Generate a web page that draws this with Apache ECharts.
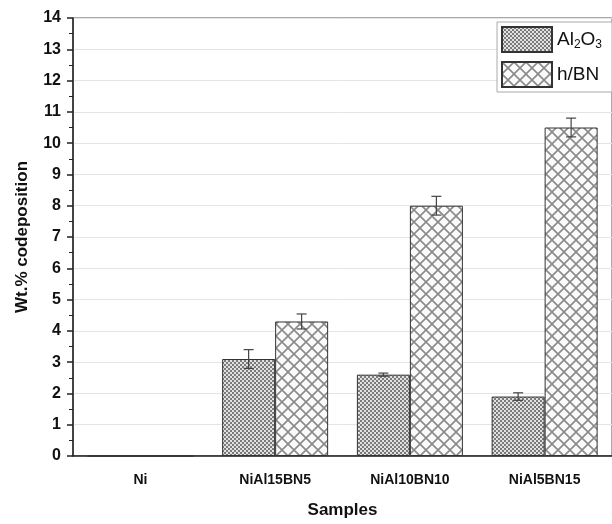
<!DOCTYPE html>
<html>
<head>
<meta charset="utf-8">
<script src="https://cdn.jsdelivr.net/npm/echarts@6/dist/echarts.min.js"></script>
<style>
  html, body { margin: 0; padding: 0; background: #fff; }
  #chart-container { width: 612px; height: 524px; }
</style>
</head>
<body>
<div id="chart-container"></div>
<script>
var categories = ['Ni', 'NiAl15BN5', 'NiAl10BN10', 'NiAl5BN15'];
var al2o3 = [0, 3.1, 2.6, 1.9];
var al2o3Err = [0, 0.3, 0.05, 0.12];
var hbn = [0, 4.3, 8.0, 10.5];
var hbnErr = [0, 0.24, 0.3, 0.3];
var yTicks = [0, 14, 1];

var BAR_W = 53;
var FONT = '"Liberation Sans", Arial, sans-serif';

// 细密的点阵填充 (Al2O3)
function dotPattern() {
    var c = document.createElement('canvas');
    c.width = 4; c.height = 4;
    var g = c.getContext('2d');
    g.fillStyle = '#e2e2e2';
    g.fillRect(0, 0, 4, 4);
    g.fillStyle = '#7a7a7a';
    g.fillRect(0, 0, 2, 2);
    g.fillRect(2, 2, 2, 2);
    return c;
}

// 斜交叉网格填充 (h/BN)
function hatchPattern() {
    var s = 12;
    var c = document.createElement('canvas');
    c.width = s; c.height = s;
    var g = c.getContext('2d');
    g.fillStyle = '#fafafa';
    g.fillRect(0, 0, s, s);
    g.strokeStyle = '#8a8a8a';
    g.lineWidth = 1.6;
    g.beginPath();
    g.moveTo(-1, -1); g.lineTo(s + 1, s + 1);
    g.moveTo(s + 1, -1); g.lineTo(-1, s + 1);
    g.stroke();
    return c;
}

var myChart = echarts.init(document.getElementById('chart-container'), null, { renderer: 'canvas' });

function errorSeries(values, errs, side) {
    var data = values.map(function (v, i) { return [i, v, errs[i]]; });
    return {
        type: 'custom',
        z: 10,
        silent: true,
        renderItem: function (params, api) {
            var i = api.value(0), v = api.value(1), e = api.value(2);
            if (!e) return null;
            var hi = api.coord([i, v + e]);
            var lo = api.coord([i, v - e]);
            var x = hi[0] + side * BAR_W / 2;
            var cap = 5;
            var st = { stroke: '#444', lineWidth: 1.2 };
            return {
                type: 'group',
                children: [
                    { type: 'line', shape: { x1: x, y1: hi[1], x2: x, y2: lo[1] }, style: st },
                    { type: 'line', shape: { x1: x - cap, y1: hi[1], x2: x + cap, y2: hi[1] }, style: st },
                    { type: 'line', shape: { x1: x - cap, y1: lo[1], x2: x + cap, y2: lo[1] }, style: st }
                ]
            };
        },
        encode: { x: 0, y: 1 },
        data: data
    };
}

var option = {
    backgroundColor: '#fff',
    animation: false,
    textStyle: { fontFamily: FONT },
    grid: {
        left: 73, right: 0, top: 18, bottom: 68,
        show: true, borderColor: '#555', borderWidth: 1, backgroundColor: '#fff'
    },
    legend: {
        orient: 'vertical',
        left: 497, top: 22,
        icon: 'rect',
        itemWidth: 50, itemHeight: 25, itemGap: 8,
        padding: [4, 10, 4, 4],
        borderColor: '#aaa', borderWidth: 1,
        backgroundColor: '#fff',
        data: ['Al2O3', 'h/BN'],
        formatter: function (name) {
            if (name === 'Al2O3') return '{a|Al}{s|2}{a|O}{s|3}';
            return '{a|h/BN}';
        },
        textStyle: {
            fontFamily: FONT,
            rich: {
                a: { fontSize: 19, color: '#111', fontFamily: FONT, lineHeight: 26 },
                s: { fontSize: 12, color: '#111', fontFamily: FONT, lineHeight: 26, padding: [10, 0, 0, 0] }
            }
        }
    },
    xAxis: {
        type: 'category',
        data: categories,
        boundaryGap: true,
        name: 'Samples',
        nameLocation: 'middle',
        nameGap: 46,
        nameTextStyle: { fontSize: 17, fontWeight: 'bold', color: '#111', fontFamily: FONT },
        axisLine: { lineStyle: { color: '#222', width: 1.5 } },
        axisTick: { alignWithLabel: true, length: 6, lineStyle: { color: '#222', width: 1.5 } },
        axisLabel: { margin: 17, fontSize: 14, fontWeight: 'bold', color: '#111', fontFamily: FONT },
        splitLine: { show: false }
    },
    yAxis: {
        type: 'value',
        min: yTicks[0], max: yTicks[1], interval: yTicks[2],
        name: 'Wt.% codeposition',
        nameLocation: 'middle',
        nameGap: 42,
        nameTextStyle: { fontSize: 17, fontWeight: 'bold', color: '#111', fontFamily: FONT },
        axisLine: { show: true, lineStyle: { color: '#222', width: 1.5 } },
        axisTick: { show: true, length: 6, lineStyle: { color: '#222', width: 1.5 } },
        minorTick: { show: true, splitNumber: 2, length: 4, lineStyle: { color: '#222', width: 1 } },
        axisLabel: { margin: 12, fontSize: 16, fontWeight: 'bold', color: '#111', fontFamily: FONT },
        splitLine: { show: true, lineStyle: { color: '#e4e4e4', width: 1 } }
    },
    series: [
        {
            name: 'Al2O3',
            type: 'bar',
            barWidth: BAR_W,
            barGap: '0%',
            z: 1,
            itemStyle: {
                color: { image: dotPattern(), repeat: 'repeat' },
                borderColor: '#333', borderWidth: 1
            },
            data: al2o3
        },
        {
            name: 'h/BN',
            type: 'bar',
            barWidth: BAR_W,
            barGap: '0%',
            z: 1,
            itemStyle: {
                color: { image: hatchPattern(), repeat: 'repeat' },
                borderColor: '#333', borderWidth: 1
            },
            data: hbn
        },
        errorSeries(al2o3, al2o3Err, -1),
        errorSeries(hbn, hbnErr, 1)
    ]
};

myChart.setOption(option);
</script>
</body>
</html>
